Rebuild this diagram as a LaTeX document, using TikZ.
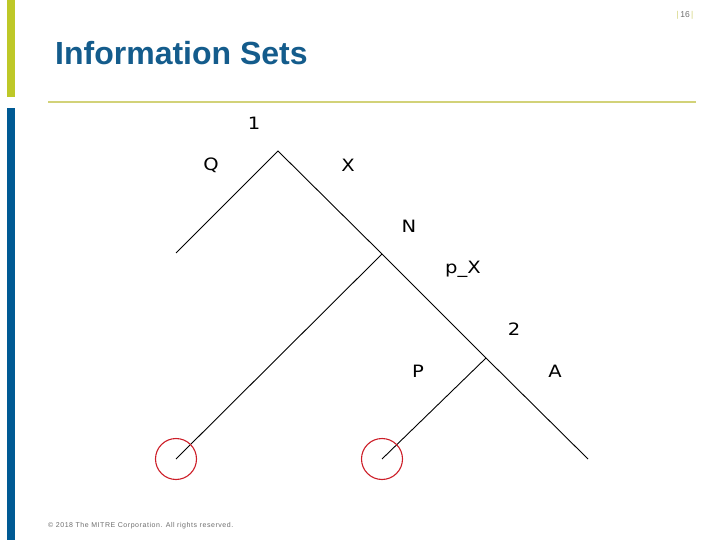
\documentclass[tikz,border=0pt]{standalone}
\usepackage{fontspec}
\setmainfont{Liberation Sans}
\newfontfamily\treefont[FakeStretch=1.15]{DejaVu Sans}
\definecolor{barGreen}{RGB}{190,200,40}
\definecolor{lineGreen}{RGB}{210,210,120}
\definecolor{barBlue}{RGB}{0,90,148}
\definecolor{titleBlue}{RGB}{20,92,140}
\definecolor{circRed}{RGB}{205,30,40}
\definecolor{footGray}{RGB}{110,110,110}
\begin{document}
\begin{tikzpicture}[x=1pt,y=-1pt,
  edge/.style={draw=black,line width=0.9pt},
  leafring/.style={draw=circRed,line width=1.1pt},
  lbl/.style={inner sep=0pt,font=\treefont\fontsize{17}{20}\selectfont},
]
\useasboundingbox (0,0) rectangle (720,540);
\fill[white] (0,0) rectangle (720,540);
% side bars
\fill[barGreen] (6.5,0) rectangle (15,97);
\fill[barBlue] (6.5,108) rectangle (15,540);
% title and rule
\node[anchor=base west,inner sep=0pt,text=titleBlue,font=\bfseries\fontsize{32}{36}\selectfont] (title) at (55,65) {Information Sets};
\draw[lineGreen,line width=2.2pt] (48,101.7) -- (696,101.7);
% page number
\node[anchor=center,inner sep=0pt,font=\fontsize{8.5}{10}\selectfont] (pg) at (685,15) {\textcolor{lineGreen}{|}\,\textcolor{footGray}{16}\,\textcolor{lineGreen}{|}};
% footer
\node[anchor=base west,inner sep=0pt,text=footGray,font=\fontsize{7}{8}\selectfont] (foot) at (48,527.5) {\addfontfeature{LetterSpace=8}© 2018 The MITRE Corporation. All rights reserved.};
% tree points
\coordinate (root) at (278,151);
\coordinate (qend) at (176,253);
\coordinate (nnode) at (382,254);
\coordinate (two) at (486,358);
\coordinate (aend) at (588,459);
\coordinate (lend) at (176,459);
\coordinate (pend) at (382,459);
\draw[edge] (qend) -- (root) -- (nnode) -- (two) -- (aend);
\draw[edge] (nnode) -- (lend);
\draw[edge] (two) -- (pend);
\draw[leafring] (lend) circle (20.5);
\draw[leafring] (pend) circle (20.5);
% labels
\node[lbl] (l1) at (254,123) {1};
\node[lbl] (lQ) at (211,165) {Q};
\node[lbl] (lX) at (348,165) {X};
\node[lbl] (lN) at (409,226) {N};
\node[lbl] (lpX) at (463,269) {p\_X};
\node[lbl] (l2) at (514,329) {2};
\node[lbl] (lP) at (418,371) {P};
\node[lbl] (lA) at (555,371) {A};
\end{tikzpicture}
\end{document}
